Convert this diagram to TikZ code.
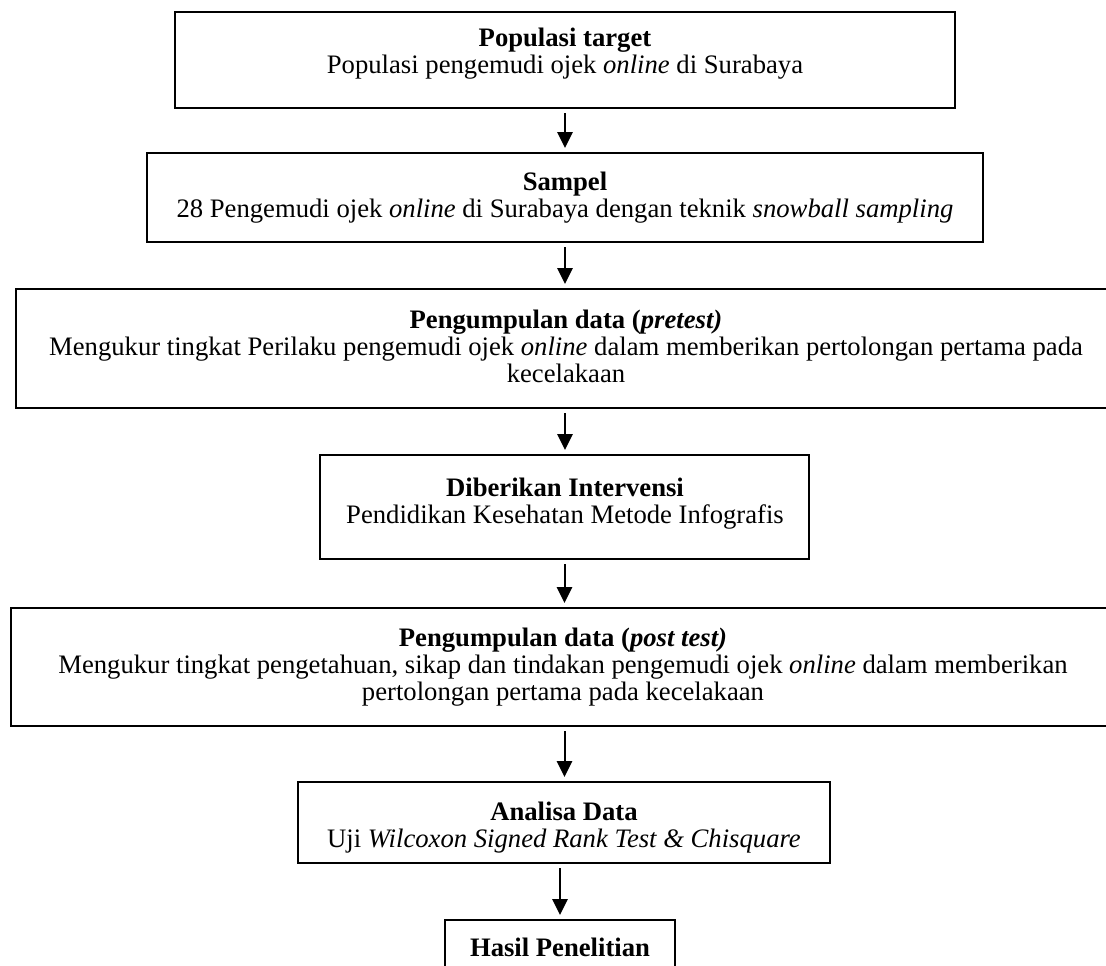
\documentclass[tikz,border=0pt]{standalone}
\usepackage{fontspec}
\setmainfont{Liberation Serif}
\usetikzlibrary{arrows.meta,fit}

\begin{document}
\begin{tikzpicture}[x=0.6pt,y=-0.6pt,
  box/.style={draw, line width=1.2pt, rectangle, inner sep=0pt},
  txt/.style={align=center, inner sep=0pt, font=\fontsize{16}{16.2}\selectfont},
  flow/.style={-{Triangle[width=9.2pt,length=9.6pt]}, line width=1.2pt,
    shorten <=2.4pt, shorten >=2.4pt}]
  \useasboundingbox (0,0) rectangle (1106,966);
  \clip (0,0) rectangle (1106,966);

  % boxes of the flow
  \node[box, fit={(175,12) (955,108)}] (b1) {};
  \node[box, fit={(147,153) (983,242)}] (b2) {};
  \node[box, fit={(16,289) (1116,408)}] (b3) {};
  \node[box, fit={(320,455) (809,559)}] (b4) {};
  \node[box, fit={(11,608) (1115,726)}] (b5) {};
  \node[box, fit={(298,782) (830,863)}] (b6) {};
  \node[box, fit={(445,920) (675,1000)}] (b7) {};

  % texts in the boxes
  \node[txt] (t1) at (565,53.5) {\textbf{Populasi target}\\Populasi pengemudi ojek \textit{online} di Surabaya};
  \node[txt] (t2) at (565,198) {\textbf{Sampel}\\28 Pengemudi ojek \textit{online} di Surabaya dengan teknik \textit{snowball sampling}};
  \node[txt] (t3) at (566,346) {\textbf{Pengumpulan data (\textit{pretest)}}\\Mengukur tingkat Perilaku pengemudi ojek \textit{online} dalam memberikan pertolongan pertama pada\\kecelakaan};
  \node[txt] (t4) at (565,503.5) {\textbf{Diberikan Intervensi}\\Pendidikan Kesehatan Metode Infografis};
  \node[txt] (t5) at (563,667) {\textbf{Pengumpulan data (\textit{post test)}}\\Mengukur tingkat pengetahuan, sikap dan tindakan pengemudi ojek \textit{online} dalam memberikan\\pertolongan pertama pada kecelakaan};
  \node[txt] (t6) at (564,827.5) {\textbf{Analisa Data}\\Uji \textit{Wilcoxon Signed Rank Test \& Chisquare}};
  \node[txt] (t7) at (560,947) {\textbf{Hasil Penelitian}};

  % arrows between the boxes
  \draw[flow] (b1.south) -- (b1.south |- b2.north);
  \draw[flow] (b2.south) -- (b2.south |- b3.north);
  \draw[flow] (b3.south -| b2.south) -- (b2.south |- b4.north);
  \draw[flow] (b4.south) -- (b4.south |- b5.north);
  \draw[flow] (b5.south -| b4.south) -- (b4.south |- b6.north);
  \draw[flow] (b6.south -| b7.north) -- (b7.north);
\end{tikzpicture}
\end{document}
